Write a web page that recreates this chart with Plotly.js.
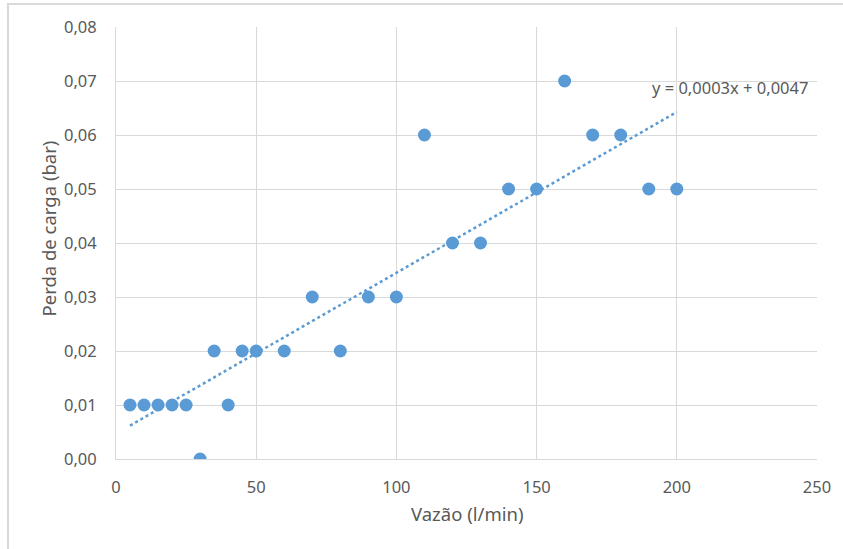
<!DOCTYPE html>
<html>
<head>
<meta charset="utf-8">
<script src="https://cdn.plot.ly/plotly-3.0.1.min.js"></script>
<style>
  html, body { margin: 0; padding: 0; background: #fff; }
  #wrap { position: relative; width: 843px; height: 549px; overflow: hidden; }
  #chart { width: 843px; height: 549px; }
  #frame { position: absolute; left: 7px; top: 3px; width: 900px; height: 600px;
           border-left: 2px solid #d9d9d9; border-top: 2px solid #d9d9d9; pointer-events: none; }
</style>
</head>
<body>
<div id="wrap">
  <div id="chart"></div>
  <div id="frame"></div>
</div>
<script>
const vazao = [5, 10, 15, 20, 25, 30, 35, 40, 45, 50, 60, 70, 80, 90, 100, 110, 120, 130, 140, 150, 160, 170, 180, 190, 200];
const perda = [0.01, 0.01, 0.01, 0.01, 0.01, 0.00, 0.02, 0.01, 0.02, 0.02, 0.02, 0.03, 0.02, 0.03, 0.03, 0.06, 0.04, 0.04, 0.05, 0.05, 0.07, 0.06, 0.06, 0.05, 0.05];
const equationText = 'y = 0,0003x + 0,0047';
const xTitle = 'Vazão (l/min)';
const yTitle = 'Perda de carga (bar)';

// least-squares linear trendline
const n = vazao.length;
const mx = vazao.reduce((a, b) => a + b, 0) / n;
const my = perda.reduce((a, b) => a + b, 0) / n;
let sxy = 0, sxx = 0;
for (let i = 0; i < n; i++) { sxy += (vazao[i] - mx) * (perda[i] - my); sxx += (vazao[i] - mx) ** 2; }
const slope = sxy / sxx;
const intercept = my - slope * mx;
const xMin = Math.min(...vazao), xMax = Math.max(...vazao);
const trendX = [xMin, xMax];
const trendY = trendX.map(x => intercept + slope * x);

const blue = '#5b9bd5';
const textCol = '#595959';
const gridCol = '#d9d9d9';
const font = 'Noto Sans, Open Sans, sans-serif';

const traces = [
  {
    x: trendX, y: trendY, type: 'scatter', mode: 'lines',
    line: { color: blue, width: 2.5, dash: 'dot' }, hoverinfo: 'skip'
  },
  {
    x: vazao, y: perda, type: 'scatter', mode: 'markers',
    marker: { color: blue, size: 13 }
  }
];

const layout = {
  width: 843, height: 549,
  margin: { l: 116, r: 26, t: 27, b: 90 },
  paper_bgcolor: '#fff', plot_bgcolor: '#fff',
  showlegend: false,
  separators: ', ',
  font: { family: font, color: textCol, size: 16.5 },
  xaxis: {
    range: [0, 250], dtick: 50, tick0: 0,
    showgrid: true, gridcolor: gridCol, gridwidth: 1,
    zeroline: false, showline: true, linecolor: gridCol, linewidth: 1,
    ticks: '', ticklabelstandoff: 13,
    tickfont: { family: font, size: 16.5, color: textCol },
    fixedrange: true
  },
  yaxis: {
    range: [0, 0.08], dtick: 0.01, tick0: 0, tickformat: '.2f',
    showgrid: true, gridcolor: gridCol, gridwidth: 1,
    zeroline: false, showline: true, linecolor: gridCol, linewidth: 1,
    ticks: '', ticklabelstandoff: 15,
    tickfont: { family: font, size: 16.5, color: textCol },
    fixedrange: true
  },
  annotations: [
    {
      x: xMax, y: 0.8588, xref: 'x', yref: 'paper',
      text: equationText, showarrow: false,
      xanchor: 'center', yanchor: 'middle', xshift: 53,
      font: { family: font, size: 16.5, color: textCol }
    },
    {
      x: 0.5, y: -0.1256, xref: 'paper', yref: 'paper',
      text: xTitle, showarrow: false, xanchor: 'center', yanchor: 'middle',
      font: { family: font, size: 18.5, color: textCol }
    },
    {
      x: -0.097, y: 0.5336, xref: 'paper', yref: 'paper',
      text: yTitle, showarrow: false, textangle: -90, xanchor: 'center', yanchor: 'middle',
      font: { family: font, size: 18.5, color: textCol }
    }
  ]
};

Plotly.newPlot('chart', traces, layout, { displayModeBar: false, staticPlot: true });
</script>
</body>
</html>
